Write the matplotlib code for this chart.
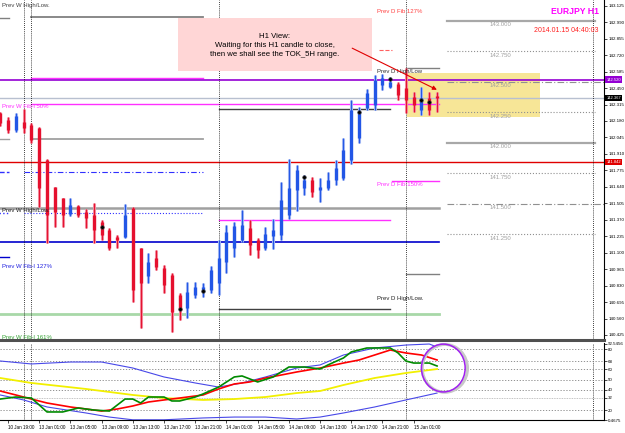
import numpy as np
import matplotlib.pyplot as plt
from matplotlib.patches import Rectangle, Ellipse
from matplotlib.transforms import blended_transform_factory

plt.rcParams['font.family'] = ['Liberation Sans', 'DejaVu Sans']

# EURJPY H1 bars, index 0 = 10 Jan 19:00 ... index 55 = 15 Jan 04:00 (current)
bars = np.arange(-1, 56)
opens = np.array([142.245, 142.188, 142.106, 142.172, 142.147, 142.122, 141.860, 141.639, 141.548, 141.417,
                  141.483, 141.434, 141.409, 141.352, 141.286, 141.229, 141.229, 141.466, 141.138, 140.909,
                  141.056, 140.974, 140.917, 140.753, 140.646, 140.753, 140.778, 140.794, 140.851, 141.024,
                  141.138, 141.204, 141.302, 141.204, 141.138, 141.237, 141.245, 141.409, 141.614, 141.630,
                  141.696, 141.614, 141.630, 141.696, 141.712, 141.860, 142.040, 142.286, 142.311, 142.475,
                  142.459, 142.483, 142.450, 142.377, 142.270, 142.368, 142.385])
highs = np.array([142.254, 142.213, 142.245, 142.278, 142.163, 142.131, 141.868, 141.639, 141.548, 141.548,
                  141.491, 141.458, 141.507, 141.368, 141.302, 141.245, 141.499, 141.475, 141.138, 141.097,
                  141.122, 140.999, 140.933, 140.769, 140.860, 140.860, 140.851, 140.991, 141.204, 141.327,
                  141.352, 141.450, 141.368, 141.220, 141.311, 141.376, 141.680, 141.868, 141.819, 141.737,
                  141.721, 141.712, 141.762, 141.860, 142.040, 142.352, 142.295, 142.442, 142.557, 142.565,
                  142.541, 142.500, 142.614, 142.418, 142.459, 142.418, 142.418])
lows = np.array([142.139, 142.081, 142.090, 142.081, 141.999, 141.475, 141.179, 141.311, 141.311, 141.401,
                 141.393, 141.302, 141.179, 141.204, 141.122, 141.138, 141.220, 140.696, 140.482, 140.851,
                 140.958, 140.769, 140.450, 140.548, 140.564, 140.728, 140.737, 140.769, 140.753, 140.933,
                 141.065, 141.188, 141.081, 141.056, 141.122, 141.130, 141.204, 141.376, 141.442, 141.573,
                 141.557, 141.516, 141.614, 141.655, 141.696, 141.827, 141.999, 142.270, 142.270, 142.434,
                 142.450, 142.352, 142.245, 142.254, 142.229, 142.229, 142.254])
closes = np.array([142.163, 142.106, 142.221, 142.122, 142.024, 141.630, 141.409, 141.434, 141.409, 141.491,
                   141.409, 141.384, 141.286, 141.245, 141.138, 141.204, 141.409, 140.794, 140.851, 141.024,
                   140.983, 140.835, 140.614, 140.630, 140.778, 140.819, 140.819, 140.958, 141.056, 141.270,
                   141.319, 141.327, 141.163, 141.122, 141.253, 141.286, 141.532, 141.630, 141.778, 141.696,
                   141.598, 141.639, 141.696, 141.794, 141.942, 142.270, 142.254, 142.409, 142.516, 142.532,
                   142.500, 142.393, 142.352, 142.311, 142.368, 142.270, 142.367])

dot_bars = [12, 22, 25, 38, 45, 49, 53, 54]
dot_prices = [141.311, 140.638, 140.786, 141.721, 142.254, 142.524, 142.352, 142.336]

# support / resistance levels
prev_w_high = 143.033
prev_w_upper = 142.532
prev_w_fib50 = 142.319
prev_w_low2 = 142.032
prev_w_blue1 = 141.762
prev_w_mid = 141.466
prev_w_blue2 = 141.425
prev_w_fib127 = 141.188
prev_w_fib161 = 140.597
prev_d_high = 142.278
prev_d_fib150 = 141.368
prev_d_low = 140.638
prev_d_fib127 = 142.762
today_high = 142.614
today_fib150 = 141.688
today_low = 140.925
stub_levels = [143.024, 142.032, 141.762, 141.425, 141.065]
round_levels = [143.000, 142.750, 142.500, 142.250, 142.000, 141.750, 141.500, 141.250]
tag_prices = [142.520, 142.367, 141.842]
tag_texts = ['142.520', '142.367', '141.842']
box_range = (142.213, 142.573)

price_ticks = [143.125, 142.990, 142.855, 142.720, 142.585, 142.450, 142.315, 142.180, 142.045, 141.910,
               141.775, 141.640, 141.505, 141.370, 141.235, 141.100, 140.965, 140.830, 140.695, 140.560, 140.425]

# oscillator window
upper_x = [-1, 3, 8, 12, 16, 20, 24, 27, 30, 33, 37, 40, 43, 47, 51, 54, 55]
upper_y = [68.2, 65.3, 67.2, 67.2, 61.3, 52.5, 46.6, 42.6, 46.6, 52.5, 61.3, 64.3, 74.1, 81.0, 83.9, 84.9, 82.0]
lower_x = [-1, 2, 5, 10, 13, 16, 20, 25, 29, 33, 37, 40, 43, 47, 51, 55]
lower_y = [34.8, 29.9, 23.0, 17.1, 13.1, 10.4, 10.4, 12.2, 13.1, 13.1, 11.2, 13.1, 17.1, 23.0, 29.9, 36.7]
yellow_x = [-1, 3, 10, 16, 20, 25, 29, 33, 37, 40, 43, 47, 51, 55]
yellow_y = [51.5, 46.6, 40.7, 34.8, 31.8, 29.9, 30.8, 32.8, 36.7, 38.7, 44.6, 51.5, 56.4, 60.3]
red_x = [-1, 1, 3, 5, 8, 10, 12, 14, 16, 18, 20, 22, 25, 27, 29, 31, 33, 35, 37, 40, 43, 45, 47, 49, 51, 53, 55]
red_y = [38.7, 34.8, 30.8, 26.9, 23.0, 21.0, 19.0, 21.0, 24.0, 27.9, 29.9, 31.8, 34.8, 40.7, 45.6, 47.6,
         51.5, 54.4, 57.4, 61.3, 66.2, 69.2, 74.1, 79.0, 76.1, 74.1, 69.2]
green_x = [-1, 1, 3, 5, 7, 9, 11, 13, 15, 16, 17, 18, 20, 21, 22, 24, 25, 27, 29, 30, 32, 34, 36, 38, 40,
           41, 43, 44, 46, 49, 50, 51, 52, 54, 55]
green_y = [30.8, 32.8, 31.8, 18.1, 18.1, 22.0, 20.0, 19.0, 30.8, 30.8, 26.9, 32.8, 32.8, 28.9, 28.9, 32.8,
           35.8, 42.6, 52.5, 53.5, 47.6, 52.5, 62.3, 62.3, 60.3, 64.3, 71.2, 77.1, 81.0, 81.0, 76.1, 68.2,
           66.2, 66.2, 63.3]
osc_levels = [80, 68, 60, 50, 40, 32, 20]

time_pos = [0, 4, 8, 12, 16, 20, 24, 28, 32, 36, 40, 44, 48, 52]
time_labels = ['10 Jan 19:00', '13 Jan 01:00', '13 Jan 05:00', '13 Jan 09:00', '13 Jan 13:00',
               '13 Jan 17:00', '13 Jan 21:00', '14 Jan 01:00', '14 Jan 05:00', '14 Jan 09:00',
               '14 Jan 13:00', '14 Jan 17:00', '14 Jan 21:00', '15 Jan 01:00']
day_seps = [2, 3, 27, 51, 75]

W, H = 625, 433
fig = plt.figure(figsize=(6.25, 4.33), dpi=100)
ax = fig.add_axes([0, 1 - 340 / H, 604 / W, 340 / H])
ax2 = fig.add_axes([0, 13 / H, 604 / W, 77 / H])
XL = (-1.03, 76.4)

# ---- main pane ----
ax.add_patch(Rectangle((51.15, box_range[0]), 17.05, box_range[1] - box_range[0],
                       facecolor='#F7E697', edgecolor='none', zorder=0))

def seg(p, i0, i1, color, lw=1.0, ls='-'):
    ax.plot([i0, i1], [p, p], color=color, lw=lw, ls=ls, zorder=1)

seg(prev_w_high, 3, 25, '#808080', 1.3)
seg(prev_w_upper, 3, 25, '#FF30FF', 1.0)
seg(prev_w_fib50, 3, 55.3, '#FF30FF', 1.0)
seg(prev_w_low2, 3, 25, '#A0A0A0', 1.3)
seg(prev_w_blue1, 2, 25, '#3030FF', 0.8, (0, (5, 2, 1, 2)))
seg(prev_w_mid, -1.1, 55.3, '#A0A0A0', 1.8)
seg(prev_w_blue2, 2, 25, '#3030FF', 0.8, ':')
seg(prev_w_fib127, -1.1, 55.3, '#0000CC', 1.2)
seg(prev_w_fib161, -1.1, 55.3, '#A8D8A8', 2.0)
seg(prev_d_high, 27, 49, '#404040', 1.0)
seg(prev_d_fib150, 27, 49, '#FF30FF', 1.0)
seg(prev_d_low, 27, 49, '#404040', 1.0)
seg(prev_d_fib127, 47.5, 49.2, '#FF6060', 0.8, '--')
seg(today_high, 51, 55.3, '#808080', 1.0)
seg(today_fib150, 49.2, 55.3, '#FF30FF', 1.0)
seg(today_low, 51, 55.3, '#808080', 1.0)
for p, c, ls in zip(stub_levels, ['#808080', '#A0A0A0', '#3030FF', '#3030FF', '#0000CC'],
                    ['-', '-', '--', ':', '-']):
    seg(p, -1.1, 0.1, c, 1.0, ls)

ax.axhline(tag_prices[0], color='#9400D3', lw=1.2, zorder=1)
ax.axhline(tag_prices[1], color='#B8C0D0', lw=1.0, zorder=1)
ax.axhline(tag_prices[2], color='#E00000', lw=1.0, zorder=1)

styles = ['-', ':', (0, (6, 2, 1, 2)), ':', '-', ':', (0, (6, 2, 1, 2)), ':']
for p, ls in zip(round_levels, styles):
    solid = ls == '-'
    end = 76.4 if isinstance(ls, tuple) else 75.3
    ax.plot([56.3, end], [p, p], color='#A8A8A8' if solid else '#909090',
            lw=1.6 if solid else 0.8, ls=ls, zorder=1)
    ax.text(63.1, p - 0.012, f'{p:.3f}', color='#A0A0A0', fontsize=4.3,
            ha='center', va='top', zorder=2)

for s in day_seps:
    ax.axvline(s, color='black', lw=0.6, ls=(0, (1, 1.5)), zorder=1)
    ax2.axvline(s, color='black', lw=0.6, ls=(0, (1, 1.5)), zorder=1)

# candles
bull = closes >= opens
dark = np.where(bull, '#2256E6', '#E5102E')
light = np.where(bull, '#9BB2F2', '#F2889A')
ax.vlines(bars, lows, highs, colors=light, lw=2.2, zorder=3)
ax.vlines(bars, lows, highs, colors=dark, lw=0.7, zorder=4)
ax.vlines(bars, np.minimum(opens, closes), np.maximum(opens, closes), colors=dark, lw=2.4, zorder=4)
ax.plot(dot_bars, dot_prices, 'o', color='black', ms=2.6, mec='#404040', mew=0.4, zorder=5)

# labels
lab = dict(fontsize=4.3, va='center', ha='left', zorder=6)
ax.text(-0.8, 143.123, 'Prev W High/Low.', color='#404040', **lab)
ax.text(-0.8, 142.295, 'Prev W Fib-l 50%', color='#FF30FF', **lab)
ax.text(-0.8, 141.442, 'Prev W High/Low.', color='#202020', **lab)
ax.text(-0.8, 140.983, 'Prev W Fib-l 127%', color='#2020E0', **lab)
ax.text(-0.8, 140.405, 'Prev W Fib-l 161%', color='#30A030', **lab)
ax.text(47.3, 143.074, 'Prev D Fib 127%', color='#FF4040', **lab)
ax.text(47.3, 142.582, 'Prev D High/Low', color='#303030', **lab)
ax.text(47.3, 141.663, 'Prev D Fib-150%', color='#FF30FF', **lab)
ax.text(47.3, 140.728, 'Prev D High/Low.', color='#202020', **lab)

ax.add_patch(Rectangle((21.8, 142.590), 24.9, 0.434, facecolor='#FFD6D6', edgecolor='none', zorder=6))
ax.text(34.2, 142.800, 'H1 View:\nWaiting for this H1 candle to close,\nthen we shall see the TOK_5H range.',
        ha='center', va='center', fontsize=5.6, linespacing=1.45, color='black', zorder=7)
ax.annotate('', xy=(55.3, 142.426), xytext=(43.8, 142.787),
            arrowprops=dict(arrowstyle='-|>', color='#E00000', lw=0.8, mutation_scale=6), zorder=7)

ax.text(72.7, 143.074, 'EURJPY H1', color='#FF00FF', fontsize=6.2, fontweight='bold',
        ha='center', va='center')
ax.text(75.7, 142.926, '2014.01.15 04:40:03', color='#FF2020', fontsize=5.0, ha='right', va='center')

ax.set_xlim(*XL)
ax.set_ylim(140.384, 143.172)
ax.set_xticks([])
ax.set_yticks(price_ticks)
ax.set_yticklabels([f'{p:.3f}' for p in price_ticks])
ax.yaxis.tick_right()
ax.tick_params(axis='y', length=2, width=0.5, labelsize=3.2, pad=1)
for s in ['left', 'top']:
    ax.spines[s].set_visible(False)
ax.spines['right'].set_linewidth(0.8)
ax.spines['bottom'].set_color('#505050')
ax.spines['bottom'].set_linewidth(2.2)

tr = blended_transform_factory(ax.transAxes, ax.transData)
for p, t, c in zip(tag_prices, tag_texts, ['#9400D3', 'black', '#E00000']):
    ax.text(1.004, p, t, transform=tr, fontsize=3.0, color='white', ha='left', va='center', zorder=8,
            bbox=dict(boxstyle='square,pad=0.25', facecolor=c, edgecolor='none'), clip_on=False)

# ---- oscillator pane ----
for lv in osc_levels:
    ax2.axhline(lv, color='#B0B0B0' if lv == 32 else '#808080', lw=0.6,
                ls=(0, (1, 1)) if lv == 32 else (0, (1.5, 2)), zorder=1)
ax2.plot(upper_x, upper_y, color='#4848E8', lw=0.8, zorder=2)
ax2.plot(lower_x, lower_y, color='#4848E8', lw=0.8, zorder=2)
ax2.plot(yellow_x, yellow_y, color='#F2F000', lw=1.3, zorder=2)
ax2.plot(red_x, red_y, color='#FF0000', lw=1.2, zorder=3)
ax2.plot(green_x, green_y, color='#008A00', lw=1.2, zorder=3)
ax2.add_patch(Ellipse((56.0, 61.0), 5.8, 47, facecolor='none', edgecolor='#C8C8C8', lw=2.2, zorder=4))
ax2.add_patch(Ellipse((55.8, 61.3), 5.6, 47, facecolor='none', edgecolor='#A020F0', lw=1.1, zorder=5))

ax2.set_xlim(*XL)
ax2.set_ylim(10.2, 85.9)
ax2.set_yticks([10.2] + osc_levels + [85.0])
ax2.set_yticklabels(['0.4675'] + [str(v) for v in osc_levels] + ['92.5456'])
ax2.yaxis.tick_right()
ax2.tick_params(axis='y', length=2, width=0.5, labelsize=3.2, pad=1)
ax2.set_xticks(time_pos)
ax2.set_xticklabels(time_labels, ha='left')
ax2.tick_params(axis='x', length=2, width=0.5, labelsize=3.3, pad=1.5)
for s in ['left', 'top']:
    ax2.spines[s].set_visible(False)
ax2.spines['right'].set_linewidth(0.8)
ax2.spines['bottom'].set_linewidth(0.8)

fig.savefig('out.png', dpi=100)
